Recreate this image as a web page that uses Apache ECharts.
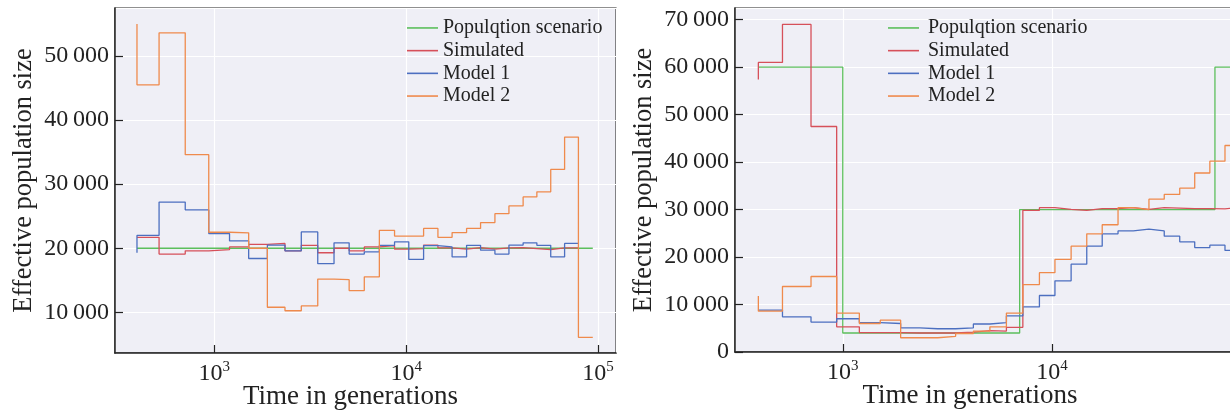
<!DOCTYPE html>
<html>
<head>
<meta charset="utf-8">
<script src="https://cdn.jsdelivr.net/npm/echarts@6/dist/echarts.min.js"></script>
<style>html,body{margin:0;padding:0;background:#fff;}#c{width:1230px;height:412px;}</style>
</head>
<body>
<div id="c"></div>
<script>
// Time bin edges (generations). Value index 0 = starting stub, index i = value on (edge[i-1], edge[i]]
const timeEdges = [395, 515, 705, 935, 1200, 1510, 1890, 2335, 2840, 3460, 4207, 5045, 6050, 7250, 8700, 10320, 12330, 14645, 17360, 20660, 24435, 29030, 34350, 40730, 48030, 56730, 67010, 79100, 94000];

const seriesNames = ['Populqtion scenario', 'Simulated', 'Model 1', 'Model 2'];

// Left panel
const leftScenarioTimes = [395, 94000];
const leftScenarioSizes = [20000, 20000];
const leftSimulated = [21700, 21700, 19100, 19600, 19800, 20200, 20600, 20750, 19600, 20450, 19300, 20000, 19600, 20200, 20400, 19850, 19950, 20500, 20050, 19850, 20100, 19850, 20050, 20100, 19950, 19800, 20050, 20050];
const leftModel1 = [19300, 22000, 27200, 26000, 22300, 21150, 18400, 20500, 19600, 22550, 17600, 20850, 19100, 19450, 20450, 21000, 18250, 20400, 20200, 18650, 20450, 19700, 19100, 20500, 20850, 20450, 18650, 20750];
const leftModel2 = [55000, 45500, 53600, 34600, 22500, 22400, 20000, 10800, 10250, 11000, 15200, 15100, 13400, 15550, 22800, 21900, 21900, 23100, 21700, 22450, 23100, 24000, 25400, 26600, 28000, 28800, 32300, 37350, 6100];

// Right panel
const rightScenarioTimes = [395, 1000, 7000, 60000, 94000];
const rightScenarioSizes = [60000, 60000, 4000, 30000, 60000];
const rightSimulated = [57400, 61000, 69000, 47500, 5300, 4100, 4100, 4000, 4000, 4000, 4200, 4500, 4400, 5200, 29850, 30400, 30050, 29850, 30200, 30200, 30400, 30050, 30400, 30300, 30200, 30200, 30150, 30400, 30300];
const rightModel1 = [8800, 8800, 7400, 6300, 7000, 6200, 6000, 5100, 4900, 4900, 5100, 5900, 6200, 7600, 9500, 11900, 15000, 18500, 22300, 24900, 25500, 25900, 25500, 24400, 23200, 22000, 22500, 21400, 21400];
const rightModel2 = [11800, 8600, 13800, 15900, 8200, 6000, 6700, 3000, 3000, 3300, 3900, 4400, 5300, 8200, 14200, 16700, 19500, 22300, 24900, 26800, 30400, 30000, 32200, 33200, 34500, 37700, 40200, 43500, 43500];

const FONT = 'Liberation Serif';
const colors = ['#5CBF5C', '#D6505A', '#4C6FC0', '#EF8A4C'];

function pairs(times, vals) { return vals.map((v, i) => [times[i], v]); }
function fmtNum(v) {
  const s = String(Math.round(v));
  return s.replace(/\B(?=(\d{3})+(?!\d))/g, '\u2009');
}
function fmtPow(v) {
  const e = Math.round(Math.log10(v));
  return '{b|10}{s|' + e + '}';
}

function xAxisCfg(idx, min, max, namePad) {
  return {
    type: 'log', logBase: 10, gridIndex: idx, min: min, max: max,
    name: 'Time in generations', nameLocation: 'middle', nameGap: 30, nameMoveOverlap: false,
    nameTextStyle: { fontFamily: FONT, fontSize: 27, color: '#222', padding: namePad },
    axisLine: { show: true, onZero: false, lineStyle: { color: '#222', width: 1.5 } },
    axisTick: { show: true, inside: true, length: 8, lineStyle: { color: '#222', width: 1.2 } },
    minorTick: { show: false },
    splitLine: { show: true, lineStyle: { color: '#ffffff', width: 1.2 } },
    axisLabel: {
      show: true, margin: 7, showMinLabel: false, showMaxLabel: false,
      formatter: fmtPow,
      rich: {
        b: { fontFamily: FONT, fontSize: 24, color: '#222', lineHeight: 26, verticalAlign: 'bottom' },
        s: { fontFamily: FONT, fontSize: 15, color: '#222', lineHeight: 26, verticalAlign: 'top', padding: [0, 0, 8, 0] }
      }
    }
  };
}
function yAxisCfg(idx, min, max, interval) {
  const c = {
    type: 'value', gridIndex: idx, min: min, max: max,
    name: 'Effective population size', nameLocation: 'middle', nameGap: 77, nameMoveOverlap: false,
    nameTextStyle: { fontFamily: FONT, fontSize: 26.5, color: '#222' },
    axisLine: { show: true, onZero: false, lineStyle: { color: '#222', width: 1.5 } },
    axisTick: { show: true, inside: true, length: 8, lineStyle: { color: '#222', width: 1.2 } },
    splitLine: { show: true, lineStyle: { color: '#ffffff', width: 1.2 } },
    axisLabel: {
      show: true, margin: 6, fontFamily: FONT, fontSize: 24, color: '#222',
      showMinLabel: min === 0, showMaxLabel: false, formatter: fmtNum
    }
  };
  if (interval) c.interval = interval; else c.splitNumber = 5;
  return c;
}
function legendCfg(left, textPad) {
  return {
    data: seriesNames, left: left, top: 16.6, orient: 'vertical', padding: 0,
    itemWidth: 31, itemHeight: 1.6, itemGap: 0, icon: 'rect', selectedMode: false,
    textStyle: { fontFamily: FONT, fontSize: 20, color: '#222', lineHeight: 22.7, padding: textPad }
  };
}
function lineSeries(name, color, xi, data) {
  return {
    name: name, type: 'line', xAxisIndex: xi, yAxisIndex: xi, step: 'start',
    symbol: 'none', showSymbol: false, data: data,
    lineStyle: { color: color, width: 1.3 }, itemStyle: { color: color },
    emphasis: { disabled: true }, silent: true
  };
}

const chart = echarts.init(document.getElementById('c'), null, { renderer: 'canvas' });
chart.setOption({
  animation: false,
  backgroundColor: '#ffffff',
  grid: [
    { left: 115, top: 8, width: 501, height: 345, show: true, containLabel: false, outerBoundsMode: 'none', backgroundColor: '#EFEFF6', borderColor: '#222', borderWidth: 1.2 },
    { left: 735, top: 8, width: 546, height: 344, show: true, containLabel: false, outerBoundsMode: 'none', backgroundColor: '#EFEFF6', borderColor: '#222', borderWidth: 1.2 }
  ],
  legend: [legendCfg(407, [0, 0, 0, 0]), legendCfg(888, [0, 0, 0, 4])],
  xAxis: [xAxisCfg(0, 303.4, 124200, [0, 30, 0, 0]), xAxisCfg(1, 305.5, 124100, [0, 76, 0, 0])],
  yAxis: [yAxisCfg(0, 3660, 57480, null), yAxisCfg(1, 0, 72460, 10000)],
  series: [
    lineSeries(seriesNames[0], colors[0], 0, pairs(leftScenarioTimes, leftScenarioSizes)),
    lineSeries(seriesNames[1], colors[1], 0, pairs(timeEdges, leftSimulated)),
    lineSeries(seriesNames[2], colors[2], 0, pairs(timeEdges, leftModel1)),
    lineSeries(seriesNames[3], colors[3], 0, pairs(timeEdges, leftModel2)),
    lineSeries(seriesNames[0], colors[0], 1, pairs(rightScenarioTimes, rightScenarioSizes)),
    lineSeries(seriesNames[1], colors[1], 1, pairs(timeEdges, rightSimulated)),
    lineSeries(seriesNames[2], colors[2], 1, pairs(timeEdges, rightModel1)),
    lineSeries(seriesNames[3], colors[3], 1, pairs(timeEdges, rightModel2))
  ]
});
</script>
</body>
</html>
